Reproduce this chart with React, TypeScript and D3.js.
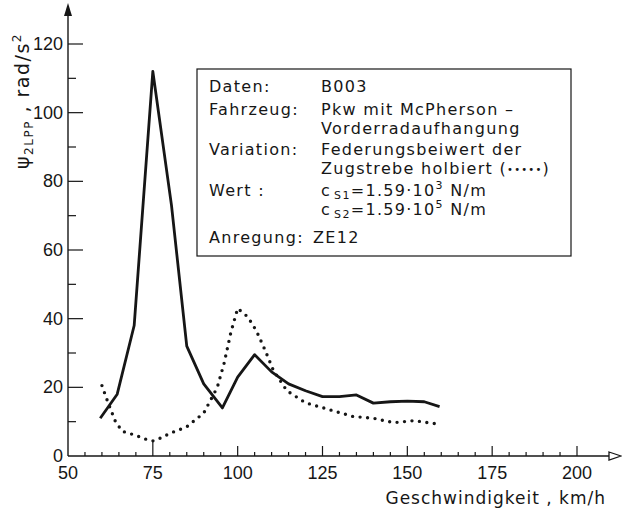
import React, { useRef, useEffect } from "react";
import * as d3 from "d3";

// solid line: original setting
const speedSolid = [59.5, 64.5, 69.5, 75, 80.5, 85, 90, 95.5, 100, 105, 110, 115, 120, 125, 130, 135, 140, 145, 150, 155, 159.5];
const accelSolid = [11, 18, 38, 112, 73, 32, 21, 14, 23, 29.5, 24.5, 21, 19, 17.3, 17.3, 17.8, 15.4, 15.8, 16, 15.8, 14.4];

// dotted line: halved spring rate
const speedDotted = [60, 62, 64, 66, 70, 72.5, 75, 77.5, 80, 85, 90, 94, 96, 98, 100, 103, 105.5, 108, 110.5, 114.5, 120, 127, 134, 140, 146, 152, 159];
const accelDotted = [20.5, 15, 10, 7.2, 6, 5, 4.4, 5.3, 6.6, 8.5, 12.5, 20, 27, 36, 43, 40.5, 36.5, 31, 25, 19, 15.5, 13.5, 11.5, 11, 9.7, 10.3, 9.3];

const xTicks = [50, 75, 100, 125, 150, 175, 200];
const yTicks = [0, 20, 40, 60, 80, 100, 120];

const legendLabels = ["Daten:", "Fahrzeug:", "", "Variation:", "", "Wert :", "", "Anregung:"];
const legendValues = [
  "B003",
  "Pkw mit McPherson –",
  "Vorderradaufhangung",
  "Federungsbeiwert der",
  "Zugstrebe holbiert ",
  "",
  "",
  "ZE12"
];
const dottedKey = "•••••";
const springRows = [
  { sub: "S1", exp: "3" },
  { sub: "S2", exp: "5" }
];

const NUM_FONT = "'Liberation Sans', Arial, sans-serif";
const TXT_FONT = "'DejaVu Sans', sans-serif";
const INK = "#161616";

const App = () => {
  const chart = useRef(null);

  useEffect(() => {
    const svg = d3.select(chart.current);
    svg.selectAll("*").remove();

    const x = d3.scaleLinear().domain([50, 200]).range([68, 577]);
    const y = d3.scaleLinear().domain([0, 120]).range([456, 44]);

    const g = svg.append("g").attr("font-family", NUM_FONT).attr("fill", INK);

    // axes
    g.append("line")
      .attr("x1", x(50)).attr("x2", 610)
      .attr("y1", y(0)).attr("y2", y(0))
      .attr("stroke", INK).attr("stroke-width", 1.4);
    g.append("path")
      .attr("d", `M609,${y(0) - 4} L621,${y(0)} L609,${y(0) + 4} Z`)
      .attr("fill", "#fff").attr("stroke", INK).attr("stroke-width", 1.3);
    g.append("line")
      .attr("x1", x(50)).attr("x2", x(50))
      .attr("y1", y(0)).attr("y2", 14)
      .attr("stroke", INK).attr("stroke-width", 1.4);
    g.append("path")
      .attr("d", `M${x(50) - 4},16 L${x(50)},3 L${x(50) + 4},16 Z`)
      .attr("fill", INK);

    // x ticks
    g.append("g")
      .selectAll("line")
      .data(d3.range(55, 201, 5))
      .join("line")
      .attr("x1", d => x(d)).attr("x2", d => x(d))
      .attr("y1", y(0))
      .attr("y2", d => (d === 75 ? y(0) - 16 : d % 25 === 0 ? y(0) - 10 : y(0) - 4))
      .attr("stroke", INK).attr("stroke-width", 1.2);

    g.append("g")
      .selectAll("text")
      .data(xTicks)
      .join("text")
      .attr("x", d => x(d))
      .attr("y", 479)
      .attr("text-anchor", "middle")
      .attr("font-size", 18)
      .text(d => d);

    // y ticks
    g.append("g")
      .selectAll("line")
      .data(d3.range(10, 121, 10))
      .join("line")
      .attr("x1", x(50))
      .attr("x2", d => (d % 20 === 0 ? x(50) + 15 : x(50) + 8))
      .attr("y1", d => y(d)).attr("y2", d => y(d))
      .attr("stroke", INK).attr("stroke-width", 1.2);

    g.append("g")
      .selectAll("text")
      .data(yTicks)
      .join("text")
      .attr("x", 63)
      .attr("y", d => y(d) + 6)
      .attr("text-anchor", "end")
      .attr("font-size", 18)
      .text(d => d);

    // axis titles
    g.append("text")
      .attr("x", 606).attr("y", 504)
      .attr("text-anchor", "end")
      .attr("font-family", TXT_FONT)
      .attr("font-size", 17)
      .attr("letter-spacing", 1)
      .text("Geschwindigkeit , km/h");

    const yTitle = g.append("text")
      .attr("transform", "translate(29,101) rotate(-90)")
      .attr("text-anchor", "middle")
      .attr("font-family", TXT_FONT)
      .attr("font-size", 19)
      .attr("letter-spacing", 1.5);
    yTitle.append("tspan").text("ψ");
    yTitle.append("tspan").attr("font-size", 12).attr("dy", 4).text("2LPP");
    yTitle.append("tspan").attr("dy", -4).text(" , rad/s");
    yTitle.append("tspan").attr("font-size", 12).attr("dy", -8).text("2");

    // curves
    const line = d3.line().x(d => x(d[0])).y(d => y(d[1]));

    g.append("path")
      .datum(d3.zip(speedDotted, accelDotted))
      .attr("d", line)
      .attr("fill", "none")
      .attr("stroke", INK)
      .attr("stroke-width", 3.4)
      .attr("stroke-linecap", "round")
      .attr("stroke-dasharray", "0 7.5");

    g.append("path")
      .datum(d3.zip(speedSolid, accelSolid))
      .attr("d", line)
      .attr("fill", "none")
      .attr("stroke", INK)
      .attr("stroke-width", 2.8)
      .attr("stroke-linejoin", "round");

    // legend box
    const lg = g.append("g");
    lg.append("rect")
      .attr("x", 197).attr("y", 69)
      .attr("width", 374).attr("height", 187)
      .attr("fill", "#fff")
      .attr("stroke", INK).attr("stroke-width", 1.2);

    const rowY = [92, 115, 134, 155, 174, 196, 215, 243];
    const txt = lg.append("g")
      .attr("font-family", TXT_FONT)
      .attr("font-size", 16)
      .attr("letter-spacing", 1.3);

    txt.selectAll(".lab")
      .data(legendLabels)
      .join("text")
      .attr("class", "lab")
      .attr("x", 209)
      .attr("y", (d, i) => rowY[i])
      .text(d => d);

    txt.selectAll(".val")
      .data(legendValues)
      .join("text")
      .attr("class", "val")
      .attr("x", (d, i) => (i === 7 ? 313 : 321))
      .attr("y", (d, i) => rowY[i])
      .each(function (d, i) {
        const t = d3.select(this);
        t.append("tspan").text(d);
        if (i === 4) {
          t.append("tspan").text("(");
          t.append("tspan").attr("font-size", 10).attr("letter-spacing", 1.2).attr("dy", -1).text(dottedKey);
          t.append("tspan").attr("dy", 1).text(")");
        }
      });

    springRows.forEach((r, i) => {
      const t = txt.append("text").attr("x", 321).attr("y", rowY[5 + i]);
      t.append("tspan").text("c");
      t.append("tspan").attr("font-size", 11).attr("dx", 3).attr("dy", 3).text(r.sub);
      t.append("tspan").attr("dy", -3).text("=1.59·10");
      t.append("tspan").attr("font-size", 11).attr("dy", -7).text(r.exp);
      t.append("tspan").attr("dy", 7).text(" N/m");
    });
  }, []);

  return (
    <svg
      ref={chart}
      width={622}
      height={514}
      style={{ position: "absolute", left: 0, top: 0, background: "#fff" }}
    />
  );
};

export default App;
